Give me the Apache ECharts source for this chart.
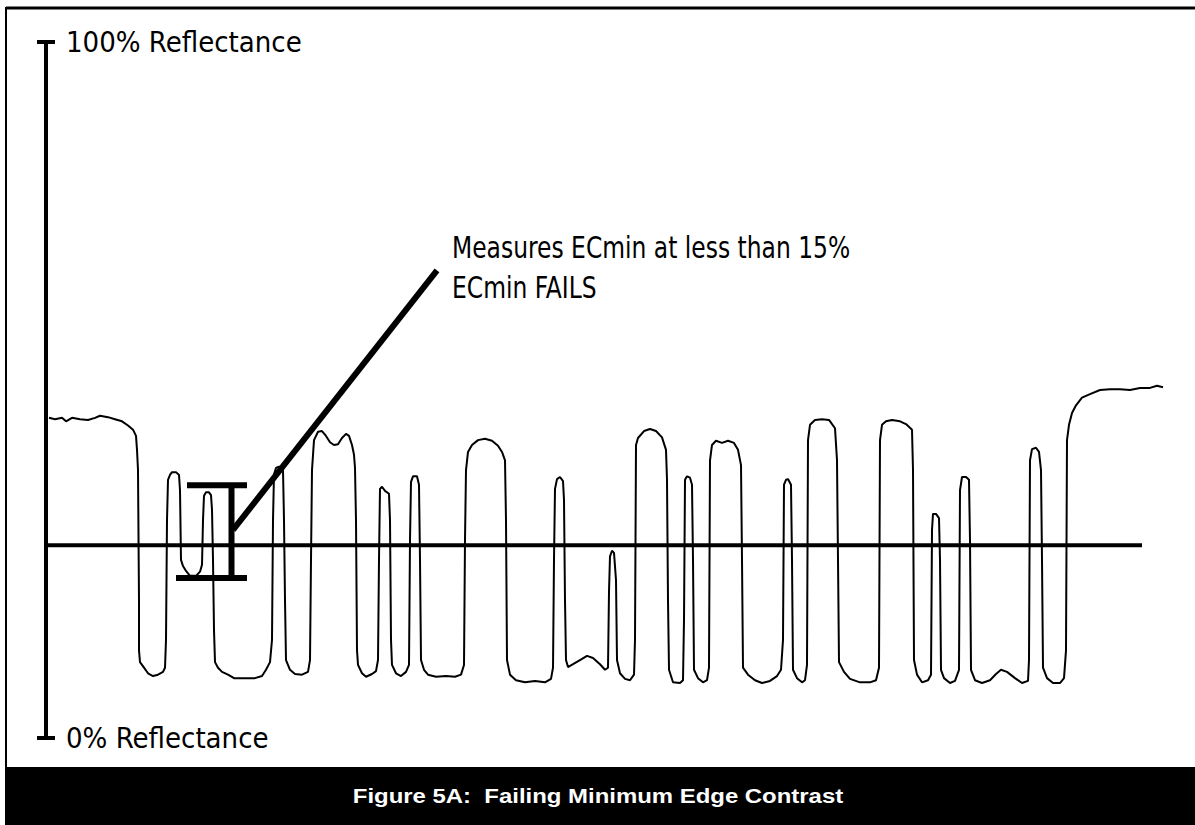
<!DOCTYPE html>
<html>
<head>
<meta charset="utf-8">
<script src="https://cdn.jsdelivr.net/npm/echarts@6/dist/echarts.min.js"></script>
<style>
html,body{margin:0;padding:0;background:#fff;}
#chart{width:1195px;height:825px;}
</style>
</head>
<body>
<div id="chart"></div>
<script>
// Scan reflectance profile: [scan position, reflectance %]
const scanProfile = [
[3,46.0],[9,45.8],[16,46.0],[20,45.5],[26,46.0],[34,45.8],[42,45.7],[49,46.0],[54,46.3],[62,46.1],[69,45.8],[76,45.5],[82,44.9],[87,44.3],[90,43.4],[91,41.4],[92,38.5],[93,19.8],[93,12.6],[94,10.9],[98,10.1],[102,9.3],[107,8.9],[112,9.1],[117,9.5],[119,10.1],[120,14.1],[121,31.3],[122,37.1],[124,37.8],[126,38.2],[130,38.2],[133,37.8],[134,35.6],[135,25.6],[137,24.7],[140,24.0],[144,23.3],[150,23.3],[154,23.9],[156,24.9],[157,31.3],[158,34.8],[160,35.3],[163,35.3],[165,34.9],[166,32.8],[167,25.6],[168,15.5],[169,10.9],[172,10.1],[176,9.5],[182,9.1],[188,8.6],[199,8.6],[209,8.6],[216,8.9],[220,9.8],[224,10.9],[226,14.1],[227,31.3],[228,37.9],[230,38.8],[233,39.0],[237,38.5],[238,31.3],[239,19.8],[240,11.2],[244,9.8],[249,9.2],[256,9.1],[262,9.5],[264,11.2],[265,25.6],[266,38.5],[268,42.8],[272,44.0],[276,44.1],[280,43.4],[284,42.5],[288,42.1],[292,42.2],[296,43.1],[300,43.7],[303,43.4],[306,42.1],[308,40.7],[309,38.8],[310,31.3],[311,12.6],[312,10.5],[316,9.3],[320,8.8],[326,9.2],[330,9.6],[332,11.2],[333,25.6],[334,35.8],[336,36.1],[339,35.5],[343,35.1],[344,31.3],[345,14.1],[346,10.5],[350,9.3],[355,8.9],[360,9.5],[363,10.5],[364,28.4],[365,36.8],[367,37.6],[371,37.6],[373,36.4],[374,25.6],[375,11.2],[378,9.8],[382,9.1],[390,8.8],[400,8.9],[409,8.8],[415,9.1],[418,10.5],[419,28.4],[420,38.5],[422,41.1],[426,42.1],[432,42.8],[439,43.0],[446,42.7],[452,42.0],[456,41.1],[459,39.9],[460,31.3],[461,11.2],[464,9.1],[470,8.3],[479,8.0],[489,8.2],[499,8.0],[505,8.5],[507,10.1],[508,25.6],[509,35.8],[511,37.2],[514,37.5],[517,36.9],[518,34.2],[519,19.8],[520,11.2],[522,10.2],[527,10.6],[534,11.2],[541,11.8],[547,11.5],[554,10.6],[559,9.8],[562,10.1],[563,21.0],[564,26.1],[566,26.9],[568,26.6],[570,22.7],[571,11.2],[574,9.3],[579,8.5],[584,8.3],[588,9.1],[589,14.1],[590,42.1],[592,43.1],[598,44.1],[604,44.4],[610,44.1],[616,43.2],[620,41.4],[621,37.1],[622,19.8],[623,9.8],[627,8.0],[634,7.9],[637,8.3],[638,17.0],[639,37.1],[641,37.6],[644,37.4],[646,36.4],[647,25.6],[648,9.8],[652,8.6],[657,8.0],[661,8.3],[663,10.1],[664,39.9],[666,42.1],[670,42.7],[676,42.4],[682,42.7],[688,42.4],[692,41.4],[695,39.2],[696,25.6],[697,10.1],[702,9.1],[709,8.3],[716,7.9],[724,8.2],[731,8.9],[735,9.8],[737,14.1],[738,36.4],[740,37.1],[742,37.2],[745,36.4],[746,25.6],[747,9.8],[751,8.6],[756,8.0],[759,8.3],[761,10.5],[762,42.8],[764,45.0],[769,45.7],[776,45.8],[783,45.7],[789,44.5],[791,39.9],[792,25.6],[793,10.9],[798,9.5],[804,8.5],[814,8.0],[824,8.0],[830,8.3],[833,10.1],[834,42.8],[836,45.0],[840,45.5],[846,45.7],[854,45.5],[860,45.1],[866,44.3],[867,38.5],[868,11.2],[871,9.1],[876,8.0],[882,8.3],[885,9.1],[886,29.9],[887,32.2],[890,32.2],[893,31.6],[894,25.6],[895,9.8],[898,8.6],[904,7.9],[909,8.2],[913,9.8],[914,35.6],[916,37.5],[920,37.5],[923,37.1],[924,28.4],[925,9.8],[929,8.3],[936,7.9],[944,8.3],[950,9.2],[955,9.8],[961,9.5],[969,8.6],[976,7.9],[982,8.2],[983,11.2],[984,39.9],[986,41.5],[990,41.7],[993,41.1],[995,38.5],[996,25.6],[997,10.1],[1001,8.6],[1007,7.9],[1014,7.9],[1018,8.6],[1020,12.6],[1021,42.8],[1023,45.0],[1026,46.7],[1030,47.8],[1036,48.9],[1044,49.4],[1054,50.0],[1064,50.1],[1074,50.1],[1084,50.0],[1094,50.3],[1104,50.3],[1111,50.6],[1117,50.4]
];

// Global threshold (horizontal reference line)
const thresholdLevel = 27.7;
const thresholdSpan = [0, 1096];

// ECmin measurement bar ("I" marker)
const ecminStemPos = 185.5;
const ecminHigh = 36.3;
const ecminLow = 23.0;
const ecminTopCap = [141, 201];
const ecminBottomCap = [130, 201];

// Leader line from marker to the note
const leaderFrom = [187, 29.9];
const leaderTo = [391, 67.2];

// Axis tick labels
const yTicks = [0, 100];
const yTickLabels = ['0% Reflectance', '100% Reflectance'];

const noteLines = ['Measures ECmin at less than 15%', 'ECmin FAILS'];
const captionText = 'Figure 5A:  Failing Minimum Edge Contrast';

const narrow = '"Liberation Sans Narrow", "DejaVu Sans Condensed", "Arial Narrow", sans-serif';

const chart = echarts.init(document.getElementById('chart'), null, {renderer: 'svg'});

const option = {
  animation: false,
  backgroundColor: '#ffffff',
  grid: {left: 46, top: 42, width: 1120, height: 696, containLabel: false},
  xAxis: {type: 'value', min: 0, max: 1120, show: false},
  yAxis: [
    {
      type: 'value', min: 0, max: 100, interval: 100, position: 'left',
      axisLine: {show: true, lineStyle: {color: '#000', width: 4}},
      axisTick: {show: true, length: 9, lineStyle: {color: '#000', width: 4}},
      splitLine: {show: false},
      axisLabel: {
        show: true, inside: true, margin: 20, color: '#000',
        fontFamily: narrow, fontSize: 29,
        formatter: function (v) { const i = yTicks.indexOf(v); return i >= 0 ? yTickLabels[i] : ''; }
      }
    },
    {
      type: 'value', min: 0, max: 100, interval: 100, position: 'left',
      axisLine: {show: false},
      axisTick: {show: true, inside: true, length: 9, lineStyle: {color: '#000', width: 4}},
      splitLine: {show: false},
      axisLabel: {show: false}
    }
  ],
  series: [
    {
      type: 'line', data: scanProfile, showSymbol: false, symbol: 'none',
      lineStyle: {color: '#000', width: 2}, z: 2
    },
    {
      type: 'line', data: [[thresholdSpan[0], thresholdLevel], [thresholdSpan[1], thresholdLevel]],
      symbol: 'none', lineStyle: {color: '#000', width: 4}, z: 3
    },
    {
      type: 'line', data: [[ecminStemPos, ecminLow], [ecminStemPos, ecminHigh]],
      symbol: 'none', lineStyle: {color: '#000', width: 6, cap: 'butt'}, z: 4
    },
    {
      type: 'line', data: [[ecminTopCap[0], ecminHigh], [ecminTopCap[1], ecminHigh]],
      symbol: 'none', lineStyle: {color: '#000', width: 6, cap: 'butt'}, z: 4
    },
    {
      type: 'line', data: [[ecminBottomCap[0], ecminLow], [ecminBottomCap[1], ecminLow]],
      symbol: 'none', lineStyle: {color: '#000', width: 6, cap: 'butt'}, z: 4
    },
    {
      type: 'line', data: [leaderFrom, leaderTo],
      symbol: 'none', lineStyle: {color: '#000', width: 6, cap: 'butt'}, z: 4
    }
  ],
  graphic: [
    {type: 'text', x: 452, y: 232, scaleX: 0.84, style: {text: noteLines[0], fill: '#000', verticalAlign: 'top', font: '31px ' + narrow}},
    {type: 'text', x: 452, y: 272, scaleX: 0.84, style: {text: noteLines[1], fill: '#000', verticalAlign: 'top', font: '31px ' + narrow}},
    {type: 'rect', shape: {x: 6, y: 767, width: 1189, height: 58}, style: {fill: '#000'}},
    {type: 'line', shape: {x1: 6, y1: 8, x2: 1195, y2: 8}, style: {stroke: '#000', lineWidth: 3}},
    {type: 'line', shape: {x1: 6, y1: 7, x2: 6, y2: 825}, style: {stroke: '#000', lineWidth: 2}},
    {type: 'text', x: 598, y: 796, scaleX: 1.14, style: {text: captionText, fill: '#fff', align: 'center', verticalAlign: 'middle',
      font: 'bold 21px "Liberation Sans", Arial, sans-serif'}}
  ]
};
chart.setOption(option);
</script>
</body>
</html>
